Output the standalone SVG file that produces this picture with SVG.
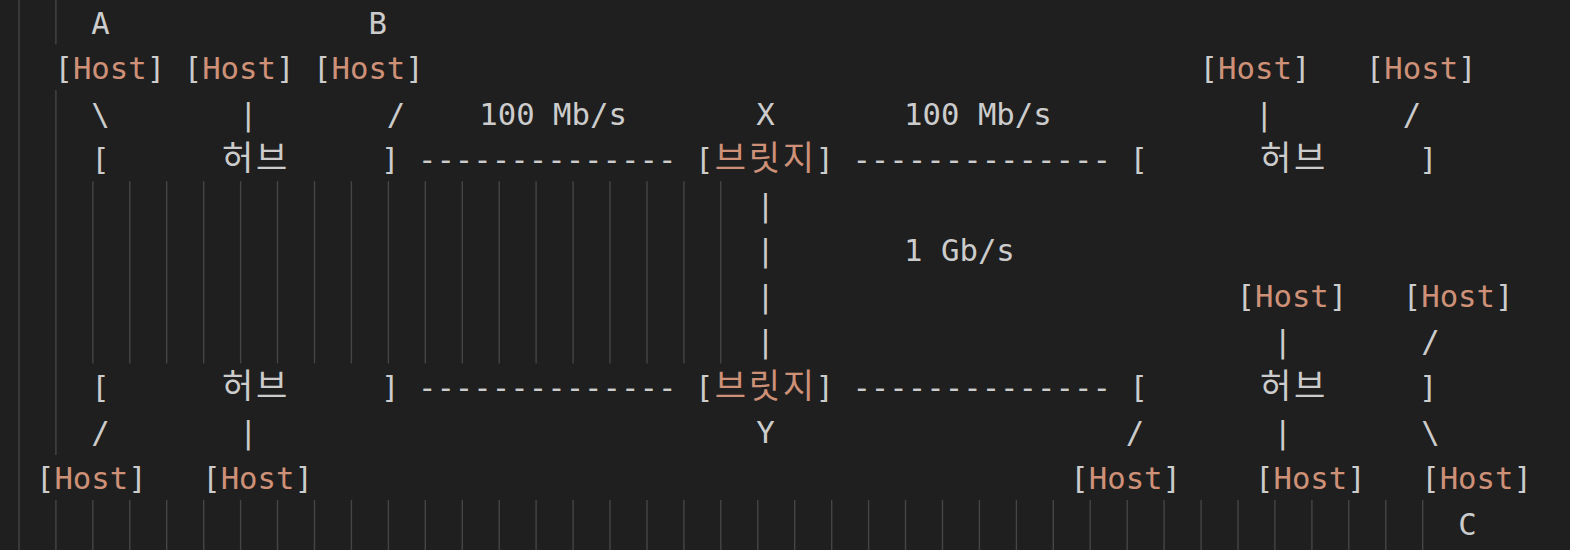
<svg xmlns="http://www.w3.org/2000/svg" width="1570" height="550" viewBox="0 0 1570 550">
<style>
text{font-family:"DejaVu Sans Mono","Liberation Mono",monospace;font-size:30.68px;fill:#cccccc;white-space:pre}
.h{fill:#ce9178}
.k{font-family:"Noto Sans CJK KR","Noto Sans CJK SC",sans-serif;font-size:34px;text-anchor:middle}
.ko{fill:#ce9178}
.g line{stroke:#454545;stroke-width:1.4}
</style>
<rect width="1570" height="550" fill="#1f1f1f"/>
<g class="g" id="indent-guides">
<line x1="19" y1="-1" x2="19" y2="550"/>
<line x1="55.9" y1="-1" x2="55.9" y2="44.5"/>
<line x1="55.9" y1="90.1" x2="55.9" y2="455"/>
<line x1="55.9" y1="500" x2="55.9" y2="550"/>
<line x1="92.85" y1="181.2" x2="92.85" y2="363.4"/>
<line x1="129.8" y1="181.2" x2="129.8" y2="363.4"/>
<line x1="166.7" y1="181.2" x2="166.7" y2="363.4"/>
<line x1="203.7" y1="181.2" x2="203.7" y2="363.4"/>
<line x1="240.6" y1="181.2" x2="240.6" y2="363.4"/>
<line x1="277.5" y1="181.2" x2="277.5" y2="363.4"/>
<line x1="314.5" y1="181.2" x2="314.5" y2="363.4"/>
<line x1="351.4" y1="181.2" x2="351.4" y2="363.4"/>
<line x1="388.4" y1="181.2" x2="388.4" y2="363.4"/>
<line x1="425.3" y1="181.2" x2="425.3" y2="363.4"/>
<line x1="462.3" y1="181.2" x2="462.3" y2="363.4"/>
<line x1="499.2" y1="181.2" x2="499.2" y2="363.4"/>
<line x1="536.1" y1="181.2" x2="536.1" y2="363.4"/>
<line x1="573.1" y1="181.2" x2="573.1" y2="363.4"/>
<line x1="610" y1="181.2" x2="610" y2="363.4"/>
<line x1="647" y1="181.2" x2="647" y2="363.4"/>
<line x1="683.9" y1="181.2" x2="683.9" y2="363.4"/>
<line x1="720.8" y1="181.2" x2="720.8" y2="363.4"/>
<line x1="92.85" y1="500" x2="92.85" y2="550"/>
<line x1="129.8" y1="500" x2="129.8" y2="550"/>
<line x1="166.7" y1="500" x2="166.7" y2="550"/>
<line x1="203.7" y1="500" x2="203.7" y2="550"/>
<line x1="240.6" y1="500" x2="240.6" y2="550"/>
<line x1="277.5" y1="500" x2="277.5" y2="550"/>
<line x1="314.5" y1="500" x2="314.5" y2="550"/>
<line x1="351.4" y1="500" x2="351.4" y2="550"/>
<line x1="388.4" y1="500" x2="388.4" y2="550"/>
<line x1="425.3" y1="500" x2="425.3" y2="550"/>
<line x1="462.3" y1="500" x2="462.3" y2="550"/>
<line x1="499.2" y1="500" x2="499.2" y2="550"/>
<line x1="536.1" y1="500" x2="536.1" y2="550"/>
<line x1="573.1" y1="500" x2="573.1" y2="550"/>
<line x1="610" y1="500" x2="610" y2="550"/>
<line x1="647" y1="500" x2="647" y2="550"/>
<line x1="683.9" y1="500" x2="683.9" y2="550"/>
<line x1="720.8" y1="500" x2="720.8" y2="550"/>
<line x1="757.8" y1="500" x2="757.8" y2="550"/>
<line x1="794.7" y1="500" x2="794.7" y2="550"/>
<line x1="831.7" y1="500" x2="831.7" y2="550"/>
<line x1="868.6" y1="500" x2="868.6" y2="550"/>
<line x1="905.5" y1="500" x2="905.5" y2="550"/>
<line x1="942.5" y1="500" x2="942.5" y2="550"/>
<line x1="979.4" y1="500" x2="979.4" y2="550"/>
<line x1="1016.4" y1="500" x2="1016.4" y2="550"/>
<line x1="1053.3" y1="500" x2="1053.3" y2="550"/>
<line x1="1090.2" y1="500" x2="1090.2" y2="550"/>
<line x1="1127.2" y1="500" x2="1127.2" y2="550"/>
<line x1="1164.1" y1="500" x2="1164.1" y2="550"/>
<line x1="1201.1" y1="500" x2="1201.1" y2="550"/>
<line x1="1238" y1="500" x2="1238" y2="550"/>
<line x1="1274.9" y1="500" x2="1274.9" y2="550"/>
<line x1="1311.9" y1="500" x2="1311.9" y2="550"/>
<line x1="1348.8" y1="500" x2="1348.8" y2="550"/>
<line x1="1385.8" y1="500" x2="1385.8" y2="550"/>
<line x1="1422.7" y1="500" x2="1422.7" y2="550"/>
</g>
<g id="labels">
<text x="91.35" y="33.5">A</text>
<text x="368.4" y="33.5">B</text>
<text x="479.22" y="124.6">100 Mb/s</text>
<text x="756.27" y="124.6">X</text>
<text x="904.03" y="124.6">100 Mb/s</text>
<text x="904.03" y="261.25">1 Gb/s</text>
<text x="756.27" y="443.45">Y</text>
<text x="1458.13" y="534.55">C</text>
</g>
<g id="host-a"><text x="54.41" y="79.05">[<tspan class="h">Host</tspan>]</text></g>
<g id="host-2"><text x="183.7" y="79.05">[<tspan class="h">Host</tspan>]</text></g>
<g id="host-b"><text x="313" y="79.05">[<tspan class="h">Host</tspan>]</text></g>
<g id="host-4"><text x="1199.55" y="79.05">[<tspan class="h">Host</tspan>]</text></g>
<g id="host-5"><text x="1365.78" y="79.05">[<tspan class="h">Host</tspan>]</text></g>
<g id="host-6"><text x="1236.49" y="306.8">[<tspan class="h">Host</tspan>]</text></g>
<g id="host-7"><text x="1402.72" y="306.8">[<tspan class="h">Host</tspan>]</text></g>
<g id="host-8"><text x="35.94" y="489">[<tspan class="h">Host</tspan>]</text></g>
<g id="host-9"><text x="202.17" y="489">[<tspan class="h">Host</tspan>]</text></g>
<g id="host-10"><text x="1070.26" y="489">[<tspan class="h">Host</tspan>]</text></g>
<g id="host-11"><text x="1254.96" y="489">[<tspan class="h">Host</tspan>]</text></g>
<g id="host-c"><text x="1421.19" y="489">[<tspan class="h">Host</tspan>]</text></g>
<g id="hub-1">
<text x="91.35" y="170.15">[</text>
<text class="k" x="237.64" y="170.15">허</text><text class="k" x="271.64" y="170.15">브</text>
<text x="380.99" y="170.15">]</text>
</g>
<g id="bridge-x">
<text x="694.98" y="170.15">[</text>
<text class="k ko" x="730.45" y="170.15">브</text><text class="k ko" x="764.45" y="170.15">릿</text><text class="k ko" x="798.45" y="170.15">지</text>
<text x="815.45" y="170.15">]</text>
</g>
<g id="hub-2">
<text x="1129.44" y="170.15">[</text>
<text class="k" x="1275.73" y="170.15">허</text><text class="k" x="1309.73" y="170.15">브</text>
<text x="1419.08" y="170.15">]</text>
</g>
<g id="hub-3">
<text x="91.35" y="397.9">[</text>
<text class="k" x="237.64" y="397.9">허</text><text class="k" x="271.64" y="397.9">브</text>
<text x="380.99" y="397.9">]</text>
</g>
<g id="bridge-y">
<text x="694.98" y="397.9">[</text>
<text class="k ko" x="730.45" y="397.9">브</text><text class="k ko" x="764.45" y="397.9">릿</text><text class="k ko" x="798.45" y="397.9">지</text>
<text x="815.45" y="397.9">]</text>
</g>
<g id="hub-4">
<text x="1129.44" y="397.9">[</text>
<text class="k" x="1275.73" y="397.9">허</text><text class="k" x="1309.73" y="397.9">브</text>
<text x="1419.08" y="397.9">]</text>
</g>
<g id="connectors">
<text x="91.35" y="124.6">\</text>
<text x="239.11" y="124.6">|</text>
<text x="386.87" y="124.6">/</text>
<text x="1254.96" y="124.6">|</text>
<text x="1402.72" y="124.6">/</text>
<text x="417.93" y="170.15">--------------</text>
<text x="852.39" y="170.15">--------------</text>
<text x="756.27" y="215.7">|</text>
<text x="756.27" y="261.25">|</text>
<text x="756.27" y="306.8">|</text>
<text x="756.27" y="352.35">|</text>
<text x="1273.43" y="352.35">|</text>
<text x="1421.19" y="352.35">/</text>
<text x="417.93" y="397.9">--------------</text>
<text x="852.39" y="397.9">--------------</text>
<text x="91.35" y="443.45">/</text>
<text x="239.11" y="443.45">|</text>
<text x="1125.67" y="443.45">/</text>
<text x="1273.43" y="443.45">|</text>
<text x="1421.19" y="443.45">\</text>
</g>
</svg>
